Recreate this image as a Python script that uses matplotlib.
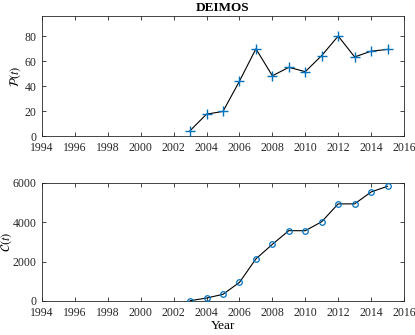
import numpy as np
import matplotlib
matplotlib.use("Agg")
from matplotlib import pyplot as plt

plt.rcParams["font.family"] = ["Liberation Serif", "DejaVu Serif"]
plt.rcParams["mathtext.fontset"] = "stix"

years = [2003, 2004, 2005, 2006, 2007, 2008, 2009, 2010, 2011, 2012, 2013, 2014, 2015]
papers = [4.3, 17.5, 19.7, 43.9, 69.8, 48.2, 55.0, 51.5, 64.4, 80.0, 63.3, 67.9, 69.3]
citations = [15, 150, 340, 945, 2140, 2880, 3575, 3570, 4030, 4935, 4935, 5540, 5830]
xticks = list(range(1994, 2017, 2))

blue = "#0072BD"

fig = plt.figure(figsize=(4.15, 3.35), dpi=100)
ax1 = fig.add_axes([0.1012, 0.594, 0.8723, 0.358])
ax2 = fig.add_axes([0.1012, 0.1015, 0.8723, 0.3525])

for ax in (ax1, ax2):
    ax.set_xlim(1994, 2016)
    ax.set_xticks(xticks)
    ax.tick_params(direction="in", top=True, right=True, labelsize=8.5,
                   length=3, width=0.6, colors="#262626")
    ax.tick_params(axis="x", pad=4.5)
    ax.tick_params(axis="y", pad=4)
    for s in ax.spines.values():
        s.set_linewidth(0.6)
        s.set_color("#262626")

ax1.plot(years, papers, color="black", linewidth=0.8, zorder=2)
ax1.plot(years, papers, "+", color=blue, markersize=7, markeredgewidth=1.0, zorder=3)
ax1.set_ylim(0, 96)
ax1.set_yticks([0, 20, 40, 60, 80])
ax1.set_ylabel(r"$\mathcal{P}(t)$", fontsize=9)
ax1.yaxis.set_label_coords(-0.052, 0.5)
ax1.set_title("DEIMOS", fontsize=9.5, fontweight="bold", pad=4)

ax2.plot(years, citations, color="black", linewidth=0.8, zorder=2)
ax2.plot(years, citations, "o", color=blue, markersize=4, markerfacecolor="none",
         markeredgewidth=0.9, zorder=3)
ax2.set_ylim(0, 6000)
ax2.set_yticks([0, 2000, 4000, 6000])
ax2.set_ylabel(r"$\mathcal{C}(t)$", fontsize=9)
ax2.yaxis.set_label_coords(-0.077, 0.5)
ax2.set_xlabel("Year", fontsize=9.5, labelpad=0.5)

fig.savefig("out.png", dpi=100)
